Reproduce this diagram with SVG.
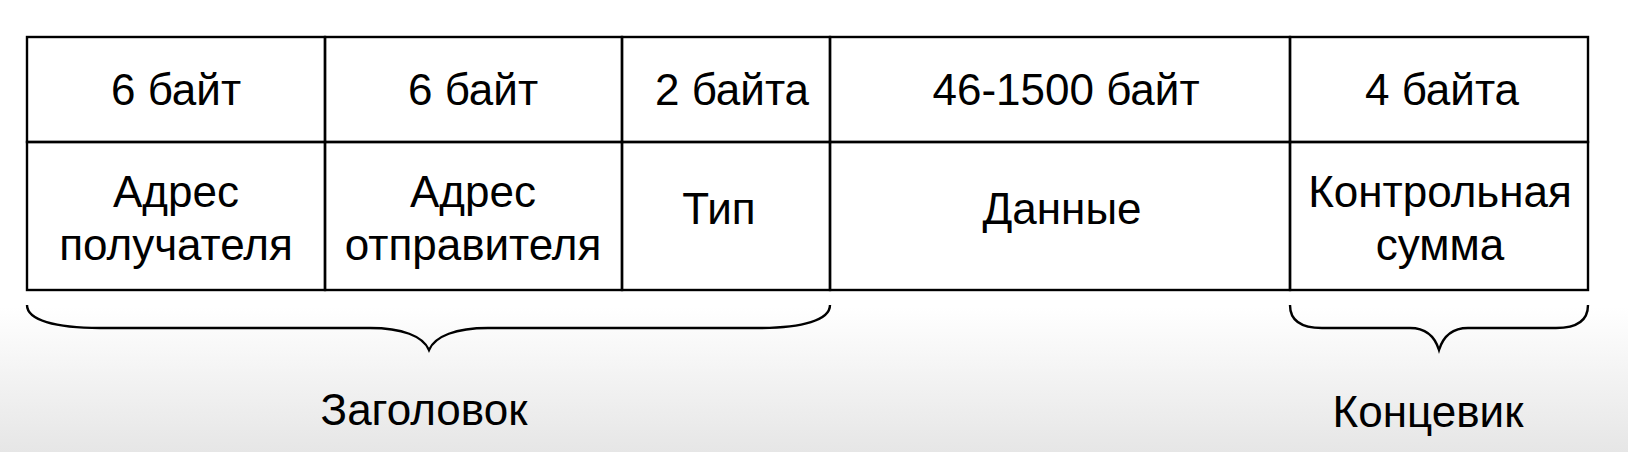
<svg xmlns="http://www.w3.org/2000/svg" width="1628" height="452" viewBox="0 0 1628 452">
<defs>
<linearGradient id="bg" x1="0" y1="0" x2="0" y2="1">
<stop offset="0" stop-color="#ffffff"/>
<stop offset="0.68" stop-color="#ffffff"/>
<stop offset="1" stop-color="#e6e6e6"/>
</linearGradient>
<style>
.cell{fill:none;stroke:#000;stroke-width:2.4}
.brace{fill:none;stroke:#000;stroke-width:2.4}
text{font-family:"Liberation Sans",Arial,sans-serif;font-size:44px;fill:#000;text-anchor:middle}
</style>
</defs>
<rect x="0" y="0" width="1628" height="452" fill="url(#bg)"/>
<g id="dst">
<rect class="cell" x="27" y="37" width="298" height="105"/>
<rect class="cell" x="27" y="142" width="298" height="148"/>
<text x="176" y="105">6 байт</text>
<text x="176" y="207">Адрес</text>
<text x="176" y="260">получателя</text>
</g>
<g id="src">
<rect class="cell" x="325" y="37" width="297" height="105"/>
<rect class="cell" x="325" y="142" width="297" height="148"/>
<text x="473" y="105">6 байт</text>
<text x="473" y="207">Адрес</text>
<text x="473" y="260">отправителя</text>
</g>
<g id="type">
<rect class="cell" x="622" y="37" width="208" height="105"/>
<rect class="cell" x="622" y="142" width="208" height="148"/>
<text x="732" y="105">2 байта</text>
<text x="719" y="224">Тип</text>
</g>
<g id="data">
<rect class="cell" x="830" y="37" width="460" height="105"/>
<rect class="cell" x="830" y="142" width="460" height="148"/>
<text x="1066" y="105">46-1500 байт</text>
<text x="1062" y="224">Данные</text>
</g>
<g id="fcs">
<rect class="cell" x="1290" y="37" width="298" height="105"/>
<rect class="cell" x="1290" y="142" width="298" height="148"/>
<text x="1442" y="105">4 байта</text>
<text x="1440" y="207">Контрольная</text>
<text x="1440" y="260">сумма</text>
</g>
<g id="connectors">
<path class="brace" d="M27,305 C27,320 55,328 100,328 L370,328 C402,328 423,336 429,350 C435,336 456,328 488,328 L758,328 C803,328 830,320 830,305"/>
<path class="brace" d="M1290,305 C1290,321 1302,328 1322,328 L1410,328 C1426,328 1435,337 1439,350 C1443,337 1452,328 1468,328 L1556,328 C1576,328 1588,321 1588,305"/>
</g>
<g id="header">
<text x="424" y="425">Заголовок</text>
</g>
<g id="trailer">
<text x="1428" y="427">Концевик</text>
</g>
</svg>
